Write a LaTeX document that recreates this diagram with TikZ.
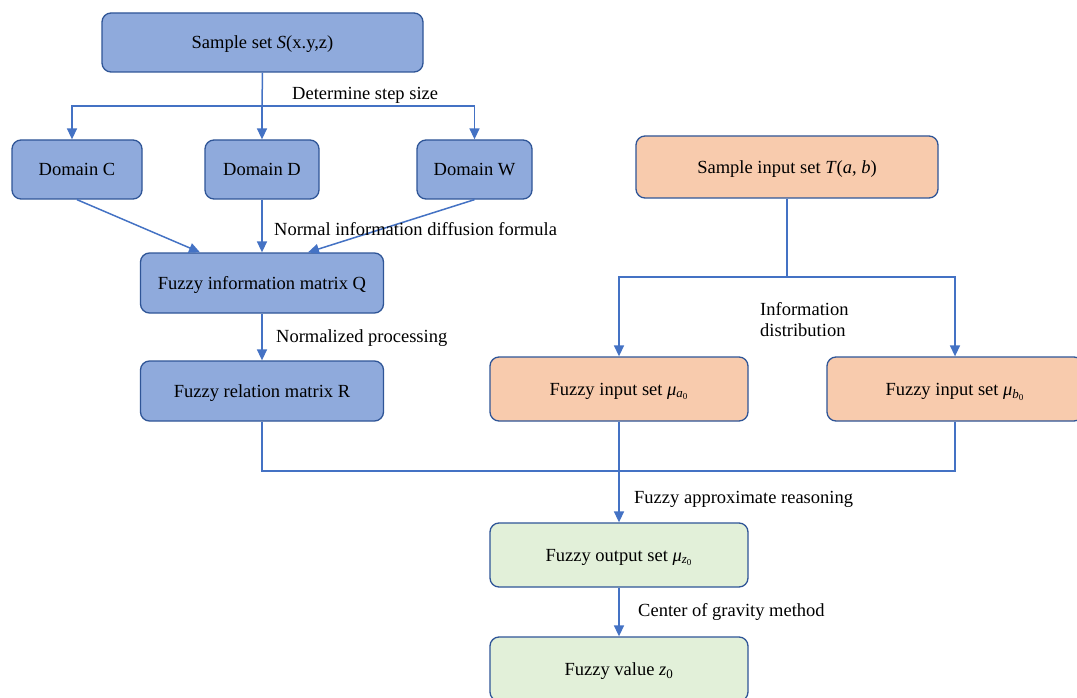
\documentclass[tikz,border=0pt]{standalone}
\usepackage{fontspec}
\setmainfont{Liberation Serif}
\usetikzlibrary{arrows.meta}
\definecolor{bfill}{HTML}{8FAADC}
\definecolor{bdraw}{HTML}{2F5597}
\definecolor{ofill}{HTML}{F8CBAD}
\definecolor{gfill}{HTML}{E2F0D9}
\definecolor{lineblue}{HTML}{4472C4}
\newcommand{\subit}[1]{\textsubscript{\textit{#1}}}
\begin{document}
\begin{tikzpicture}[x=1pt,y=-1pt,
  font=\fontsize{18.5}{21}\selectfont,
  box/.style={draw=bdraw, line width=1.3pt, rounded corners=9pt, align=center, inner sep=0pt, text depth=0pt},
  bluebox/.style={box, fill=bfill},
  orangebox/.style={box, fill=ofill},
  greenbox/.style={box, fill=gfill},
  conn/.style={draw=lineblue, line width=1.5pt},
  arr/.style={conn, -{Triangle[length=11pt,width=10pt]}},
  lbl/.style={anchor=west, inner sep=0pt, align=left}]
\useasboundingbox[fill=white] (0,0) rectangle (1077,698);

% left column
\node[bluebox, minimum width=321pt, minimum height=59pt] (S) at (262.5,42.5) {Sample set \textit{S}(x.y,z)};
\node[bluebox, minimum width=130pt, minimum height=59pt] (C) at (77,169.5) {Domain C};
\node[bluebox, minimum width=114pt, minimum height=59pt] (D) at (262,169.5) {Domain D};
\node[bluebox, minimum width=115pt, minimum height=59pt] (W) at (474.5,169.5) {Domain W};
\node[bluebox, minimum width=243pt, minimum height=60pt] (Q) at (262,283) {Fuzzy information matrix Q};
\node[bluebox, minimum width=243pt, minimum height=60pt] (R) at (262,391) {Fuzzy relation matrix R};

% right column
\node[orangebox, minimum width=302pt, minimum height=62pt] (T) at (787,167) {Sample input set \textit{T}(\textit{a}, \textit{b})};
\node[orangebox, minimum width=258pt, minimum height=64pt] (mua) at (619,389) {Fuzzy input set \textit{μ}\subit{a\textsubscript{\upshape 0}}};
\node[orangebox, minimum width=256pt, minimum height=64pt] (mub) at (955,389) {Fuzzy input set \textit{μ}\subit{b\textsubscript{\upshape 0}}};
\node[greenbox, minimum width=258pt, minimum height=64pt] (out) at (619,555) {Fuzzy output set \textit{μ}\subit{z\textsubscript{\upshape 0}}};
\node[greenbox, minimum width=258pt, minimum height=64pt] (val) at (619,669) {Fuzzy value \textit{z}\textsubscript{0}};

% coordinates
\coordinate (split) at (262,106);
\coordinate (tsplit) at (787,277);
\coordinate (join) at (619,471);

% connectors
\draw[conn] (S.south) -- (split);
\draw[arr] (split) -| ([xshift=-5pt]C.north);
\draw[arr] (split) -- (D.north);
\draw[arr] (split) -| (W.north);
\draw[arr] (C.south) -- ([xshift=-62pt]Q.north);
\draw[arr] (D.south) -- (Q.north);
\draw[arr] (W.south) -- ([xshift=46pt]Q.north);
\draw[arr] (Q.south) -- (R.north);

\draw[conn] (T.south) -- (tsplit);
\draw[arr] (tsplit) -| (mua.north);
\draw[arr] (tsplit) -| (mub.north);

\draw[conn] (R.south) |- (join);
\draw[conn] (mub.south) |- (join);
\draw[arr] (mua.south) -- (out.north);
\draw[arr] (out.south) -- (val.north);

% labels
\node[lbl] (l1) at (292,95) {Determine step size};
\node[lbl] (l2) at (274,229) {Normal information diffusion formula};
\node[lbl] (l3) at (276,338) {Normalized processing};
\node[lbl] (l4) at (760,320) {Information\\distribution};
\node[lbl] (l5) at (634,499) {Fuzzy approximate reasoning};
\node[lbl] (l6) at (638,612) {Center of gravity method};
\end{tikzpicture}
\end{document}
